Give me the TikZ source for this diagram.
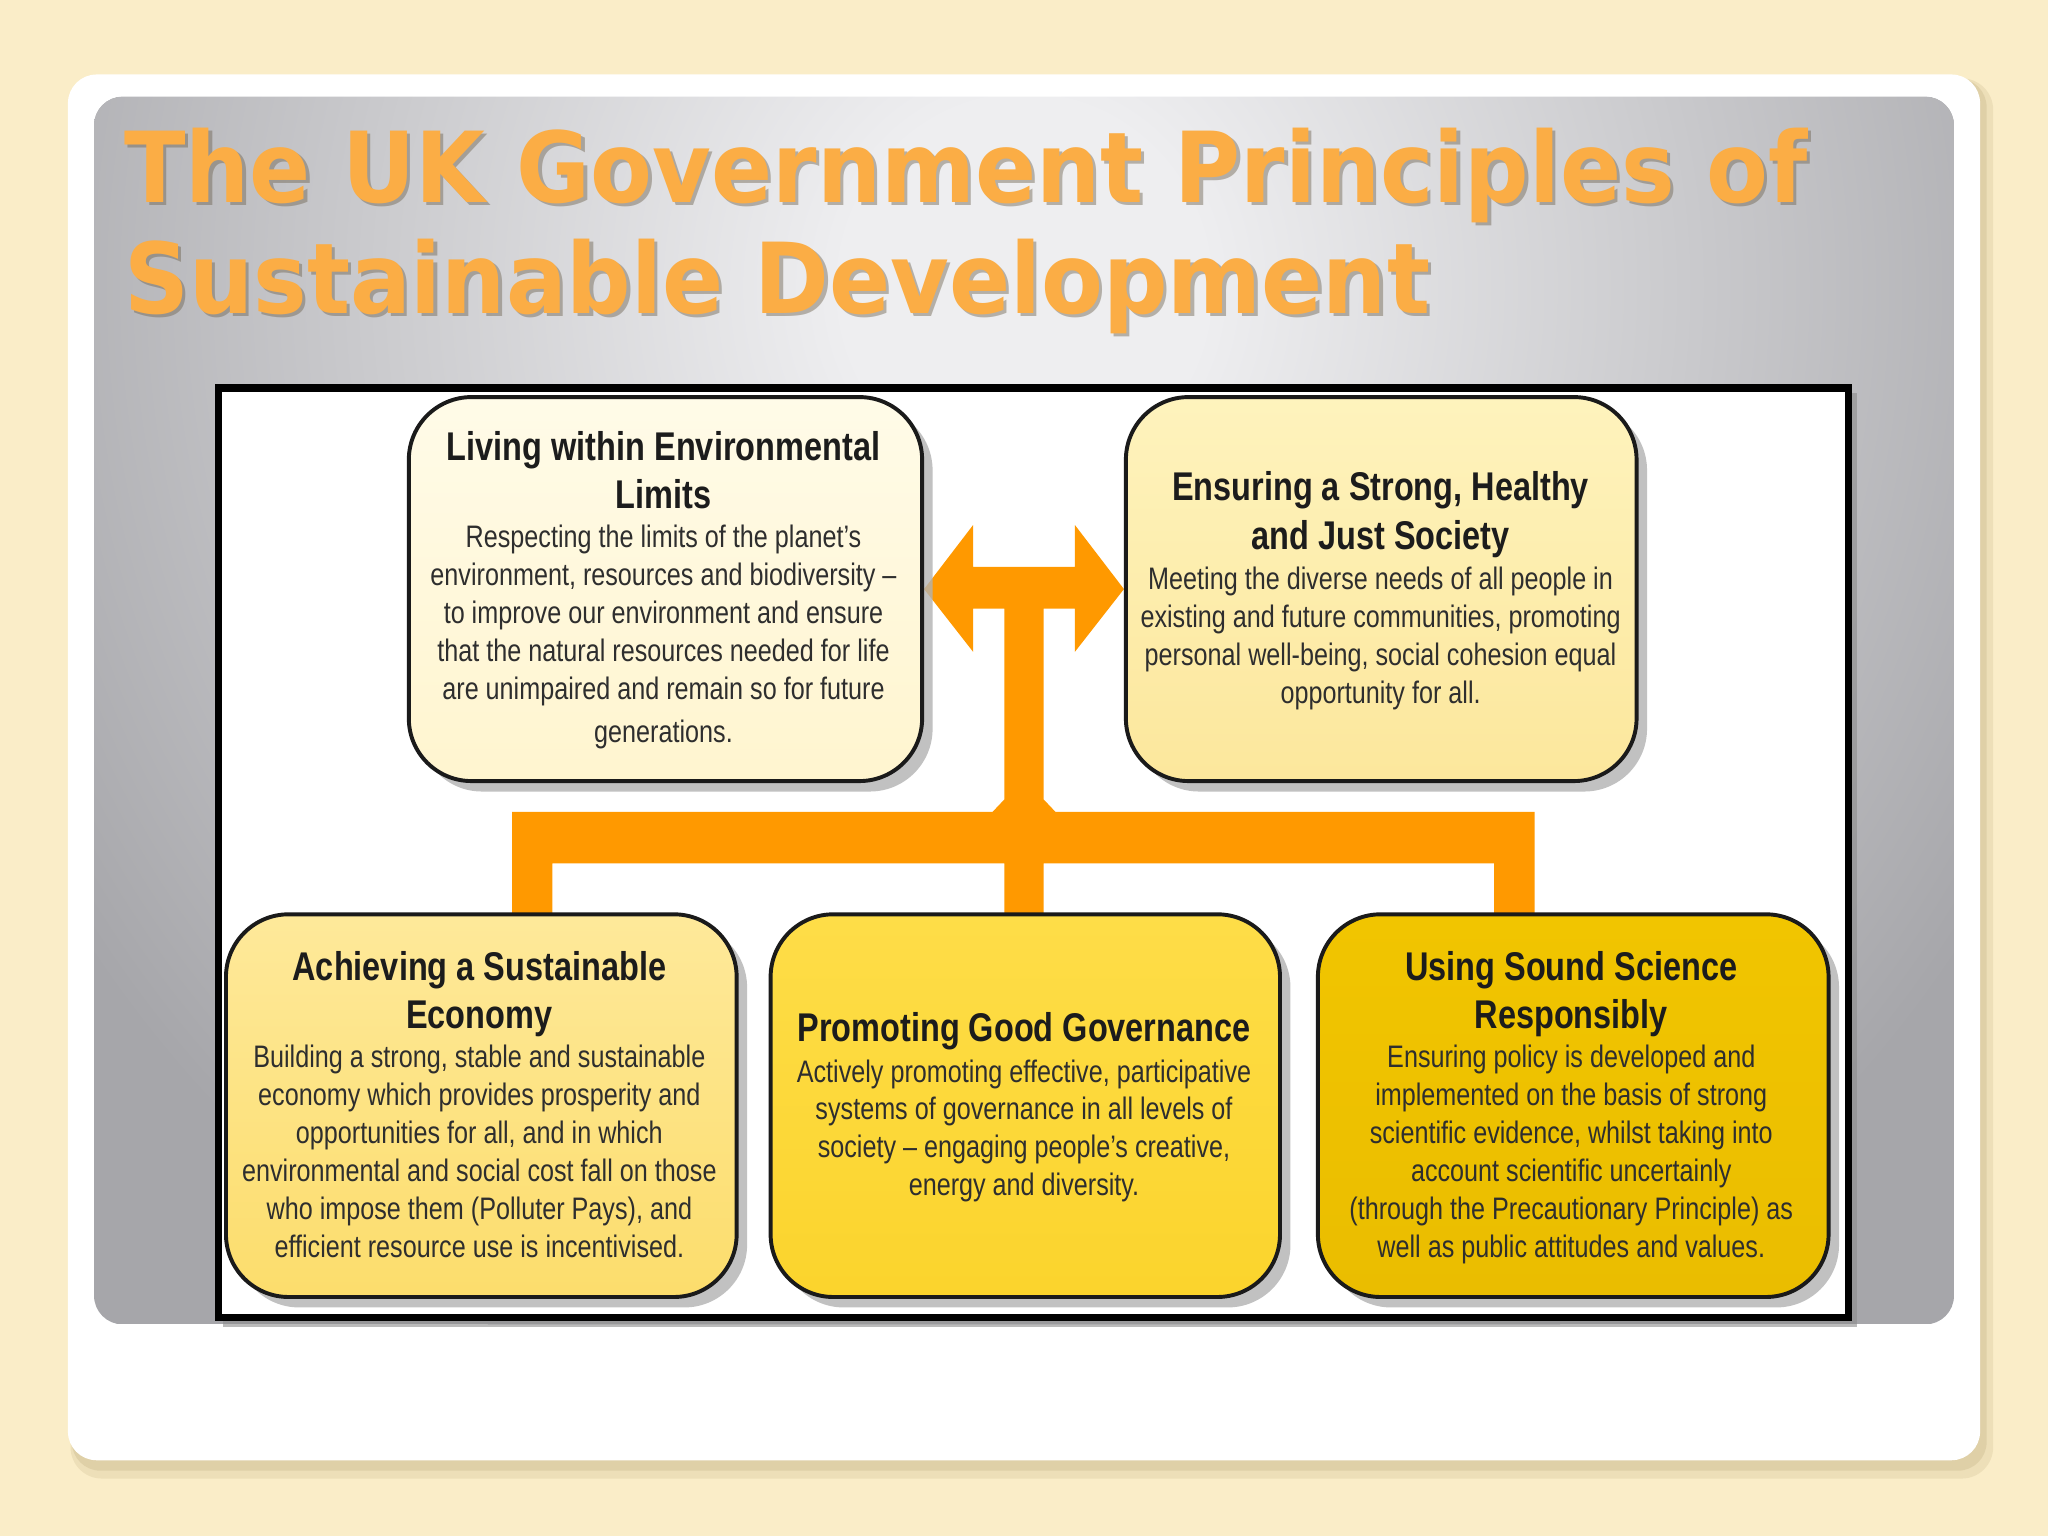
\documentclass[tikz,border=0pt]{standalone}
\usepackage{fontspec}
\setmainfont{Liberation Sans}
\newfontfamily\bodyfont[FakeStretch=0.81]{Liberation Sans}
\newfontfamily\headfont[FakeStretch=0.81]{Liberation Sans Bold}
\newfontfamily\titlefont[FakeStretch=0.92]{DejaVu Sans Bold}
\usetikzlibrary{shadows,calc}
\pgfdeclarelayer{front}
\pgfsetlayers{main,front}
\definecolor{bgcream}{HTML}{FAEDC8}
\definecolor{cardshadow}{HTML}{D6C79C}
\definecolor{panellight}{HTML}{EEEEF0}
\definecolor{paneldark}{HTML}{A6A6AA}
\definecolor{titleorange}{HTML}{FBAD45}
\definecolor{titleshadow}{HTML}{6E6350}
\definecolor{busorange}{HTML}{FF9900}
\definecolor{boxline}{HTML}{1A1A1A}
\definecolor{headcol}{HTML}{1C1C1C}
\definecolor{bodycol}{HTML}{2E2E2E}
\definecolor{tlA}{HTML}{FFFBE8}\definecolor{tlB}{HTML}{FFF5CF}
\definecolor{trA}{HTML}{FEF3BD}\definecolor{trB}{HTML}{FCE79C}
\definecolor{blA}{HTML}{FEE99A}\definecolor{blB}{HTML}{FCDD6C}
\definecolor{bmA}{HTML}{FEDD48}\definecolor{bmB}{HTML}{FBD42C}
\definecolor{brA}{HTML}{F1C500}\definecolor{brB}{HTML}{EABD00}
\pgfdeclareradialshading{panelshade}{\pgfpoint{0bp}{0bp}}{color(0bp)=(panellight); color(4bp)=(panellight); color(25bp)=(paneldark); color(50bp)=(paneldark)}
\tikzset{
  principle/.style={draw=boxline, line width=3pt, rounded corners=48pt,
    inner sep=0pt, drop shadow={shadow xshift=8pt, shadow yshift=-8pt, fill=black!30, opacity=0.8}},
  headtext/.style={anchor=north, inner sep=0pt, align=center, text=headcol,
    font=\headfont\fontsize{30.7pt}{37pt}\selectfont},
  bodytext/.style={anchor=north, inner sep=0pt, align=center, text=bodycol,
    font=\bodyfont\fontsize{23.8pt}{29pt}\selectfont},
  titletext/.style={anchor=base west, inner sep=0pt, text=titleorange,
    font=\titlefont\fontsize{75pt}{85pt}\selectfont},
  titleshade/.style={anchor=base west, inner sep=0pt, text=titleshadow, text opacity=0.45,
    font=\titlefont\fontsize{75pt}{85pt}\selectfont},
  bus/.style={fill=busorange}
}
\begin{document}
\begin{tikzpicture}[x=1pt,y=-1pt]
\useasboundingbox (0,0) rectangle (1568,1176);
\fill[bgcream] (0,0) rectangle (1568,1176);
% card with shadow
\fill[cardshadow, opacity=0.35, rounded corners=24pt] (54,60) rectangle (1526,1132);
\fill[cardshadow, opacity=0.6, rounded corners=22pt] (55,60) rectangle (1521,1126);
\fill[white, rounded corners=22pt] (52,57) rectangle (1516,1118);
% grey panel
\begin{scope}
  \clip[rounded corners=22pt] (72,74) rectangle (1496,1014);
  \fill[paneldark] (72,74) rectangle (1496,1014);
  \shade[shading=panelshade] (784,220) ellipse (870 and 900);
\end{scope}
% title
\node[titleshade] (t1s) at (97.5,157.5) {The UK Government Principles of};
\node[titleshade] (t2s) at (97.5,242.5) {Sustainable Development};
\node[titletext] (t1) at (95,155) {The UK Government Principles of};
\node[titletext] (t2) at (95,240) {Sustainable Development};
% diagram frame
\fill[black!45, opacity=0.6] (171,301) rectangle (1422,1016);
\draw[line width=5.5pt, fill=white] (167,297) rectangle (1415,1009);
% principle boxes
\begin{pgfonlayer}{front}
\node[principle, top color=tlA, bottom color=tlB, minimum width=393pt, minimum height=294pt] (tl) at (509.5,451) {};
\node[principle, top color=trA, bottom color=trB, minimum width=391pt, minimum height=294pt] (tr) at (1057.5,451) {};
\node[principle, top color=blA, bottom color=blB, minimum width=391pt, minimum height=293pt] (bl) at (368.5,846.5) {};
\node[principle, top color=bmA, bottom color=bmB, minimum width=390pt, minimum height=293pt] (bm) at (785,846.5) {};
\node[principle, top color=brA, bottom color=brB, minimum width=391pt, minimum height=293pt] (br) at (1204.5,846.5) {};
\node[headtext] (tlh) at (508,330) {Living within Environmental\\Limits};
\node[bodytext] (tlb) at (508,402) {Respecting the limits of the planet’s\\environment, resources and biodiversity –\\to improve our environment and ensure\\that the natural resources needed for life\\are unimpaired and remain so for future\\[4pt]generations.};
\node[headtext] (trh) at (1057,361) {Ensuring a Strong, Healthy\\and Just Society};
\node[bodytext] (trb) at (1057,434) {Meeting the diverse needs of all people in\\existing and future communities, promoting\\personal well-being, social cohesion equal\\opportunity for all.};
\node[headtext] (blh) at (367,728) {Achieving a Sustainable\\Economy};
\node[bodytext] (blb) at (367,800) {Building a strong, stable and sustainable\\economy which provides prosperity and\\opportunities for all, and in which\\environmental and social cost fall on those\\who impose them (Polluter Pays), and\\efficient resource use is incentivised.};
\node[headtext] (bmh) at (784,775) {Promoting Good Governance};
\node[bodytext] (bmb) at (784,811) {Actively promoting effective, participative\\systems of governance in all levels of\\society – engaging people’s creative,\\energy and diversity.};
\node[headtext] (brh) at (1203,728) {Using Sound Science\\Responsibly};
\node[bodytext] (brb) at (1203,800) {Ensuring policy is developed and\\implemented on the basis of strong\\scientific evidence, whilst taking into\\account scientific uncertainly\\(through the Precautionary Principle) as\\well as public attitudes and values.};
\end{pgfonlayer}
% orange connector bus
\fill[bus] (tl.east) -- (745,402) -- (745,434) -- (823,434) -- (823,402) -- (tr.west)
  -- (823,499) -- (823,466) -- (799,466) -- (799,612) -- (808,621.5) -- (1175,621.5)
  -- (1175,701) -- (1144,701) -- (1144,661) -- (799,661) -- (799,701) -- (769,701)
  -- (769,661) -- (423,661) -- (423,701) -- (392,701) -- (392,621.5) -- (760,621.5)
  -- (769,612) -- (769,466) -- (745,466) -- (745,499) -- cycle;
\end{tikzpicture}
\end{document}
